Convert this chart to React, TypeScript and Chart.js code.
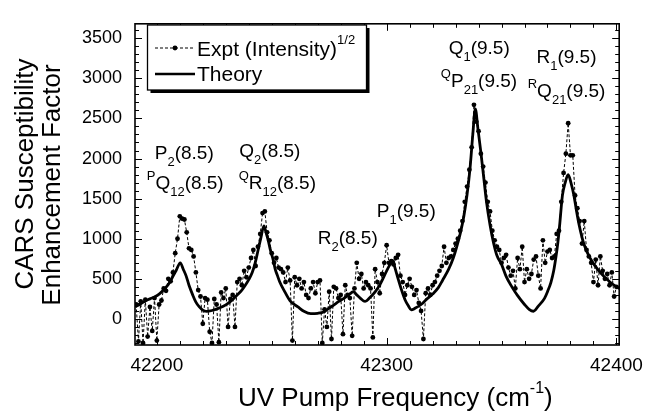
import React, { useEffect, useRef } from "react";
import { Chart, registerables } from "chart.js";
Chart.register(...registerables);

const FONT = "'Liberation Sans', Arial, Helvetica, sans-serif";

// Experimental data: UV pump frequency (cm^-1) and (Intensity)^1/2
const exptX = [
  42191, 42192, 42193, 42194, 42195, 42196, 42197, 42198, 42199, 42200,
  42201, 42202, 42203, 42204, 42205, 42206, 42207, 42208, 42209, 42210,
  42211, 42212, 42213, 42214, 42215, 42216, 42217, 42218, 42219, 42220,
  42221, 42222, 42223, 42224, 42225, 42226, 42227, 42228, 42229, 42230,
  42231, 42232, 42233, 42234, 42235, 42236, 42237, 42238, 42239, 42240,
  42241, 42242, 42243, 42244, 42245, 42246, 42247, 42248, 42249, 42250,
  42251, 42252, 42253, 42254, 42255, 42256, 42257, 42258, 42259, 42260,
  42261, 42262, 42263, 42264, 42265, 42266, 42267, 42268, 42269, 42270,
  42271, 42272, 42273, 42274, 42275, 42276, 42277, 42278, 42279, 42280,
  42281, 42282, 42283, 42284, 42285, 42286, 42287, 42288, 42289, 42290,
  42291, 42292, 42293, 42294, 42295, 42296, 42297, 42298, 42299, 42300,
  42301, 42302, 42303, 42304, 42305, 42306, 42307, 42308, 42309, 42310,
  42311, 42312, 42313, 42314, 42315, 42316, 42317, 42318, 42319, 42320,
  42321, 42322, 42323, 42324, 42325, 42326, 42327, 42328, 42329, 42330,
  42331, 42332, 42333, 42334, 42335, 42336, 42337, 42338, 42339, 42340,
  42341, 42342, 42343, 42344, 42345, 42346, 42347, 42348, 42349, 42350,
  42351, 42352, 42353, 42354, 42355, 42356, 42357, 42358, 42359, 42360,
  42361, 42362, 42363, 42364, 42365, 42366, 42367, 42368, 42369, 42370,
  42371, 42372, 42373, 42374, 42375, 42376, 42377, 42378, 42379, 42380,
  42381, 42382, 42383, 42384, 42385, 42386, 42387, 42388, 42389, 42390,
  42391, 42392, 42393, 42394, 42395, 42396, 42397, 42398, 42399, 42400,
];
const exptY = [
  180, -280, 220, -300, 240, -220, 150, -150, 260, -270,
  180, 230, 380, 350, 500, 470, 580, 820, 1000, 1280,
  1250, 1240, 1080, 880, 860, 780, 580, 360, 280, -60,
  260, 240, -160, -300, 250, 180, -290, 330, 260, 380,
  -100, 250, 300, -100, 460, 500, 420, 600, 520, 640,
  760, 860, 660, 900, 1060, 1320, 1340, 1080, 980, 820,
  700, 760, 640, 620, 580, 460, 640, 480, -270, 520,
  420, 500, 380, 460, 300, 260, 380, 460, 320, 460,
  480, -300, 120, -100, 340, -250, 400, 380, 260, 300,
  -190, 420, 300, 260, -210, 380, 700, 500, 560, 380,
  460, 420, 380, -230, 620, 460, 320, 560, 700, 920,
  700, 720, 680, 760, 800, 540, 460, 300, 420, 500,
  400, 300, 360, 200, 100, -250, 320, 380, 300, 420,
  460, 540, 600, 660, 900, 700, 760, 780, 860, 940,
  1000, 1100, 1220, 1460, 1650, 1860, 2140, 2670, 2460, 2340,
  2060, 1900, 1700, 1460, 1340, 1100, 980, 900, 860, 700,
  760, 800, 640, 540, 600, 380, 760, 620, 900, 460,
  620, 500, 560, 740, 780, 540, 380, 980, 700, 840,
  860, 760, 780, 1060, 1100, 1460, 1820, 2060, 2440, 2040,
  2040, 1540, 1380, 1220, 940, 1220, 860, 780, 700, 460,
  740, 420, 780, 600, 500, 560, 420, 580, 280, 400,
];

// Theory curve
const theoryX = [
  42190.6, 42193, 42195, 42197, 42199, 42201, 42203, 42205, 42207, 42208.5,
  42210.2, 42211.5, 42212.7, 42214, 42215.6, 42217, 42218.5, 42220, 42221.5, 42224,
  42227, 42230, 42232.7, 42235, 42237, 42238.5, 42240, 42241.5, 42242.8, 42244,
  42245.2, 42246.6, 42247.5, 42248.5, 42249.5, 42250.6, 42251.5, 42252.5, 42253.5, 42255.7,
  42258, 42261.4, 42264, 42267, 42270, 42272.8, 42275, 42277.1, 42279, 42281.4,
  42283.5, 42285.6, 42287, 42288.5, 42290.6, 42292.5, 42295, 42297.5, 42300, 42301.5,
  42302.6, 42303.6, 42305, 42306.5, 42308, 42309.5, 42310.7, 42312.5, 42315, 42317.2,
  42320, 42322.5, 42324.3, 42327, 42329, 42330.5, 42332, 42333.6, 42335, 42336.3,
  42337.5, 42338.6, 42339.7, 42341, 42342.3, 42343.5, 42345, 42346.5, 42348, 42350,
  42352, 42354.5, 42357, 42360, 42362, 42363.9, 42366, 42368.7, 42370, 42371.5,
  42372.7, 42373.7, 42374.5, 42375.2, 42376.5, 42377.7, 42379, 42380.2, 42381.5, 42382.6,
  42383.7, 42385.8, 42388.7, 42393, 42397.3, 42401.3,
];
const theoryY = [
  150, 190, 225, 250, 275, 310, 365, 430, 530, 610,
  700, 620, 540, 420, 300, 210, 150, 110, 95, 105,
  135, 175, 235, 300, 360, 420, 490, 580, 700, 850,
  1000, 1160, 1080, 975, 850, 740, 620, 540, 460, 337,
  225, 150, 95, 65, 70, 90, 135, 176, 215, 257,
  300, 340, 300, 260, 218, 260, 337, 450, 600, 680,
  730, 640, 500, 360, 240, 160, 112, 135, 180, 240,
  310, 390, 480, 620, 760, 900, 1060, 1280, 1550, 1880,
  2300, 2620, 2380, 2080, 1750, 1450, 1170, 950, 790, 680,
  530, 400, 290, 180, 120, 96, 160, 257, 340, 457,
  600, 778, 950, 1140, 1540, 1700, 1800, 1700, 1540, 1350,
  1180, 938, 750, 577, 457, 377,
];

const xTickValues = [42200, 42300, 42400];
const yTickValues = [0, 500, 1000, 1500, 2000, 2500, 3000, 3500];

const yTitleLines = ["CARS Susceptibility", "Enhancement Factor"];
type Kind = "n" | "sub" | "sup";
type Part = [string, Kind];
const xTitleParts: Part[] = [["UV Pump Frequency (cm", "n"], ["-1", "sup"], [")", "n"]];
const legendExpt: Part[] = [["Expt (Intensity)", "n"], ["1/2", "sup"]];
const legendTheory: Part[] = [["Theory", "n"]];

// Peak assignments, anchored in data coordinates (left edge, baseline)
const peakLabels: { x: number; y: number; parts: Part[] }[] = [
  { x: 42199.1, y: 1997, parts: [["P", "n"], ["2", "sub"], ["(8.5)", "n"]] },
  { x: 42195.6, y: 1624, parts: [["P", "sup"], ["Q", "n"], ["12", "sub"], ["(8.5)", "n"]] },
  { x: 42235.9, y: 2021, parts: [["Q", "n"], ["2", "sub"], ["(8.5)", "n"]] },
  { x: 42235.6, y: 1624, parts: [["Q", "sup"], ["R", "n"], ["12", "sub"], ["(8.5)", "n"]] },
  { x: 42270.0, y: 938, parts: [["R", "n"], ["2", "sub"], ["(8.5)", "n"]] },
  { x: 42295.7, y: 1275, parts: [["P", "n"], ["1", "sub"], ["(9.5)", "n"]] },
  { x: 42327.0, y: 3308, parts: [["Q", "n"], ["1", "sub"], ["(9.5)", "n"]] },
  { x: 42323.6, y: 2887, parts: [["Q", "sup"], ["P", "n"], ["21", "sub"], ["(9.5)", "n"]] },
  { x: 42365.2, y: 3187, parts: [["R", "n"], ["1", "sub"], ["(9.5)", "n"]] },
  { x: 42361.4, y: 2766, parts: [["R", "sup"], ["Q", "n"], ["21", "sub"], ["(9.5)", "n"]] },
];

function drawParts(ctx: CanvasRenderingContext2D, x: number, y: number, parts: Part[], size: number, small: number, subDy: number, supDy: number) {
  let cx = x;
  ctx.textAlign = "left";
  ctx.textBaseline = "alphabetic";
  for (const [t, k] of parts) {
    const s = k === "n" ? size : small;
    ctx.font = `${s}px ${FONT}`;
    const dy = k === "sub" ? subDy : k === "sup" ? supDy : 0;
    ctx.fillText(t, cx, y + dy);
    cx += ctx.measureText(t).width;
  }
}

const overlay = {
  id: "overlay",
  afterDatasetsDraw(chart: any) {
    const { ctx, chartArea: a, scales } = chart;
    const xs = scales.x;
    const ys = scales.y;
    ctx.save();
    ctx.strokeStyle = "#000";
    ctx.fillStyle = "#000";

    // inward ticks
    ctx.lineWidth = 1;
    ctx.beginPath();
    for (let v = 42200; v <= 42400; v += 10) {
      const px = Math.round(xs.getPixelForValue(v)) + 0.5;
      const len = v % 100 === 0 ? 7 : 4;
      ctx.moveTo(px, a.bottom);
      ctx.lineTo(px, a.bottom - len);
      ctx.moveTo(px, a.top);
      ctx.lineTo(px, a.top + len);
    }
    for (let v = -300; v <= 3600; v += 100) {
      const py = Math.round(ys.getPixelForValue(v)) + 0.5;
      const len = v % 500 === 0 ? 7 : 4;
      ctx.moveTo(a.left, py);
      ctx.lineTo(a.left + len, py);
      ctx.moveTo(a.right, py);
      ctx.lineTo(a.right - len, py);
    }
    ctx.stroke();

    // frame
    ctx.lineWidth = 1.6;
    ctx.strokeRect(a.left, a.top, a.right - a.left, a.bottom - a.top);

    // legend box with shadow
    const lx = 147.5, ly = 25, lw = 219, lh = 65;
    ctx.fillStyle = "#000";
    ctx.fillRect(lx + 3, ly + 3, lw, lh);
    ctx.fillStyle = "#fff";
    ctx.fillRect(lx, ly, lw, lh);
    ctx.lineWidth = 1.3;
    ctx.strokeRect(lx, ly, lw, lh);
    ctx.fillStyle = "#000";
    // expt sample
    ctx.lineWidth = 1;
    ctx.setLineDash([3, 2]);
    ctx.beginPath();
    ctx.moveTo(155, 48);
    ctx.lineTo(195, 48);
    ctx.stroke();
    ctx.setLineDash([]);
    ctx.beginPath();
    ctx.arc(175, 48, 2.4, 0, Math.PI * 2);
    ctx.fill();
    drawParts(ctx, 197, 56, legendExpt, 21, 13, 0, -12);
    // theory sample
    ctx.lineWidth = 2.5;
    ctx.beginPath();
    ctx.moveTo(155, 74);
    ctx.lineTo(195, 74);
    ctx.stroke();
    drawParts(ctx, 197, 81, legendTheory, 21, 13, 0, -12);

    // peak labels
    for (const l of peakLabels) {
      drawParts(ctx, xs.getPixelForValue(l.x), ys.getPixelForValue(l.y), l.parts, 19, 13, 7, -9);
    }

    // x title
    drawParts(ctx, 238, 406, xTitleParts, 26, 16, 0, -13);

    // y title
    ctx.save();
    ctx.font = `26px ${FONT}`;
    ctx.textAlign = "center";
    ctx.textBaseline = "alphabetic";
    ctx.translate(33, 174);
    ctx.rotate(-Math.PI / 2);
    ctx.fillText(yTitleLines[0], 0, 0);
    ctx.restore();
    ctx.save();
    ctx.font = `26px ${FONT}`;
    ctx.textAlign = "center";
    ctx.textBaseline = "alphabetic";
    ctx.translate(60, 185);
    ctx.rotate(-Math.PI / 2);
    ctx.fillText(yTitleLines[1], 0, 0);
    ctx.restore();

    ctx.restore();
  },
};

export default function App() {
  const ref = useRef<HTMLCanvasElement | null>(null);
  useEffect(() => {
    if (!ref.current) return;
    const chart = new Chart(ref.current, {
      type: "line",
      data: {
        datasets: [
          {
            label: "Theory",
            data: theoryX.map((x, i) => ({ x, y: theoryY[i] })),
            borderColor: "#000",
            borderWidth: 2.8,
            pointRadius: 0,
            cubicInterpolationMode: "monotone",
            fill: false,
          },
          {
            label: "Expt",
            data: exptX.map((x, i) => ({ x, y: exptY[i] })),
            borderColor: "#000",
            borderWidth: 1,
            borderDash: [3, 2],
            pointRadius: 2.4,
            pointBackgroundColor: "#000",
            pointBorderWidth: 0,
            fill: false,
          },
        ],
      },
      options: {
        animation: false,
        responsive: false,
        maintainAspectRatio: false,
        events: [],
        layout: { padding: { top: 12, right: 26, left: 0, bottom: 0 } },
        plugins: { legend: { display: false }, tooltip: { enabled: false } },
        scales: {
          x: {
            type: "linear",
            min: 42190.5,
            max: 42401.2,
            afterBuildTicks: (s: any) => {
              s.ticks = xTickValues.map((v) => ({ value: v }));
            },
            afterFit: (s: any) => {
              s.height = 73;
            },
            grid: { display: false, drawTicks: false },
            border: { display: false },
            ticks: {
              padding: 9,
              color: "#000",
              maxRotation: 0,
              autoSkip: false,
              font: { family: FONT, size: 19 },
              callback: (v: any) => String(v),
            },
          },
          y: {
            type: "linear",
            min: -325,
            max: 3680,
            afterBuildTicks: (s: any) => {
              s.ticks = yTickValues.map((v) => ({ value: v }));
            },
            afterFit: (s: any) => {
              s.width = 135;
            },
            grid: { display: false, drawTicks: false },
            border: { display: false },
            ticks: {
              padding: 13,
              color: "#000",
              autoSkip: false,
              font: { family: FONT, size: 18 },
              callback: (v: any) => String(v),
            },
          },
        },
      },
      plugins: [overlay],
    });
    return () => chart.destroy();
  }, []);
  return (
    <div style={{ position: "absolute", left: 0, top: 0, width: 652, height: 418, background: "#fff" }}>
      <canvas ref={ref} width={652} height={418} style={{ display: "block" }} />
    </div>
  );
}
